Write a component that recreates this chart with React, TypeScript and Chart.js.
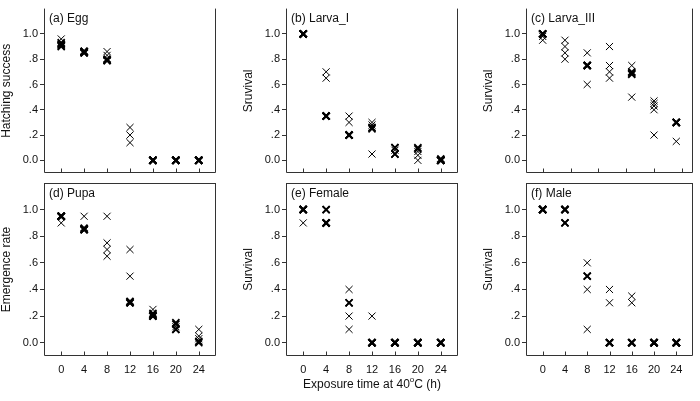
import React, { useEffect, useRef } from 'react';
import { Chart, registerables } from 'chart.js';
Chart.register(...registerables);

// ---- data ----
const hours = [0, 4, 8, 12, 16, 20, 24];
const xTicksStd = [0, 4, 8, 12, 16, 20, 24];
const xTicksLarvaIII = [0, 5, 10, 15, 20, 25];
const yTicks = [0, 0.2, 0.4, 0.6, 0.8, 1.0];
const yTickLabels = ['0.0', '.2', '.4', '.6', '.8', '1.0'];

const eggHatching = [
  [0.96, 0.93, 0.92, 0.9, 0.91],
  [0.86, 0.86, 0.85, 0.85, 0.86],
  [0.86, 0.83, 0.8, 0.79, 0.79],
  [0.26, 0.2, 0.14],
  [0, 0, 0, 0, 0],
  [0, 0, 0, 0, 0],
  [0, 0, 0, 0, 0],
];
const larvaISurvival = [
  [1, 1, 1, 1, 1],
  [0.7, 0.65, 0.35, 0.35, 0.35],
  [0.35, 0.3, 0.2, 0.2, 0.2],
  [0.3, 0.28, 0.26, 0.25, 0.05],
  [0.1, 0.1, 0.08, 0.05, 0.05],
  [0.1, 0.09, 0.07, 0.04, 0],
  [0, 0, 0, 0, 0.01],
];
const larvaIIISurvival = [
  [1, 1, 1, 0.98, 0.95],
  [0.95, 0.9, 0.85, 0.8],
  [0.85, 0.75, 0.75, 0.75, 0.6],
  [0.9, 0.75, 0.7, 0.65],
  [0.75, 0.7, 0.69, 0.68, 0.5],
  [0.47, 0.45, 0.43, 0.4, 0.2],
  [0.3, 0.3, 0.3, 0.15],
];
const pupaEmergence = [
  [0.95, 0.95, 0.95, 0.95, 0.9],
  [0.95, 0.85, 0.85, 0.85, 0.86],
  [0.95, 0.75, 0.7, 0.65],
  [0.7, 0.5, 0.3, 0.3, 0.31],
  [0.25, 0.22, 0.21, 0.2, 0.2],
  [0.15, 0.14, 0.12, 0.1, 0.1],
  [0.1, 0.05, 0.03, 0.01, 0],
];
const femaleSurvival = [
  [1, 1, 1, 1, 0.9],
  [1, 1, 0.9, 0.9, 0.9],
  [0.4, 0.3, 0.3, 0.2, 0.1],
  [0.2, 0, 0, 0, 0],
  [0, 0, 0, 0, 0],
  [0, 0, 0, 0, 0],
  [0, 0, 0, 0, 0],
];
const maleSurvival = [
  [1, 1, 1, 1, 1],
  [1, 1, 1, 0.9, 0.9],
  [0.6, 0.5, 0.5, 0.4, 0.1],
  [0.4, 0.3, 0, 0, 0],
  [0.35, 0.3, 0, 0, 0],
  [0, 0, 0, 0, 0],
  [0, 0, 0, 0, 0],
];

// ---- style / layout ----
const W = 700;
const H = 401;
const YW = 40;
const XH = 20;
const FONT = "'Liberation Sans', Arial, Helvetica, sans-serif";
const FRAME = '#333333';
const TEXT = '#111111';

type Panel = {
  label: string;
  yTitle: string;
  values: number[][];
  xTicks: number[];
  area: { l: number; r: number; t: number; b: number };
  bottomRow: boolean;
  xTitle?: boolean;
};

const panels: Panel[] = [
  { label: '(a) Egg', yTitle: 'Hatching success', values: eggHatching, xTicks: xTicksStd, area: { l: 44, r: 216, t: 0, b: 173 }, bottomRow: false },
  { label: '(b) Larva_I', yTitle: 'Sruvival', values: larvaISurvival, xTicks: xTicksStd, area: { l: 286, r: 458, t: 0, b: 173 }, bottomRow: false },
  { label: '(c) Larva_III', yTitle: 'Survival', values: larvaIIISurvival, xTicks: xTicksLarvaIII, area: { l: 526, r: 698, t: 0, b: 173 }, bottomRow: false },
  { label: '(d) Pupa', yTitle: 'Emergence rate', values: pupaEmergence, xTicks: xTicksStd, area: { l: 44, r: 216, t: 183, b: 356 }, bottomRow: true },
  { label: '(e) Female', yTitle: 'Survival', values: femaleSurvival, xTicks: xTicksStd, area: { l: 286, r: 458, t: 183, b: 356 }, bottomRow: true, xTitle: true },
  { label: '(f) Male', yTitle: 'Survival', values: maleSurvival, xTicks: xTicksStd, area: { l: 526, r: 698, t: 183, b: 356 }, bottomRow: true },
];

function PanelChart({ p }: { p: Panel }) {
  const ref = useRef<HTMLCanvasElement | null>(null);
  useEffect(() => {
    if (!ref.current) return;
    const points: { x: number; y: number }[] = [];
    const counts: number[] = [];
    hours.forEach((h, i) => {
      const vals = p.values[i] || [];
      vals.forEach((v) => {
        points.push({ x: h, y: v });
        counts.push(vals.filter((w) => Math.abs(w - v) < 0.015).length);
      });
    });

    const decor = {
      id: 'decor',
      afterDraw(chart: any) {
        const { ctx, chartArea } = chart;
        const { left, right, top, bottom } = chartArea;
        ctx.save();
        ctx.strokeStyle = FRAME;
        ctx.lineWidth = 1;
        ctx.beginPath();
        const L = Math.round(left) + 0.5;
        const R = Math.round(right) - 0.5;
        const B = Math.round(bottom) - 0.5;
        const T = Math.round(top) + 0.5;
        if (p.bottomRow) {
          ctx.moveTo(L, T);
          ctx.lineTo(R, T);
        }
        ctx.moveTo(L, top);
        ctx.lineTo(L, B);
        ctx.lineTo(R, B);
        ctx.lineTo(R, top);
        const xs = chart.scales.x;
        xs.ticks.forEach((t: any) => {
          const px = Math.round(xs.getPixelForValue(t.value)) + 0.5;
          ctx.moveTo(px, B);
          ctx.lineTo(px, B - 4);
        });
        ctx.stroke();

        ctx.fillStyle = TEXT;
        ctx.font = `12px ${FONT}`;
        ctx.textAlign = 'left';
        ctx.textBaseline = 'middle';
        ctx.fillText(p.label, left + 5, top + (p.bottomRow ? 11 : 10));

        ctx.save();
        ctx.translate(left - 37, (top + bottom) / 2);
        ctx.rotate(-Math.PI / 2);
        ctx.textAlign = 'center';
        ctx.fillText(p.yTitle, 0, 0);
        ctx.restore();

        if (p.xTitle) {
          const a = 'Exposure time at 40';
          const sup = 'o';
          const c = 'C (h)';
          ctx.font = `12px ${FONT}`;
          const wa = ctx.measureText(a).width;
          const wc = ctx.measureText(c).width;
          ctx.font = `8px ${FONT}`;
          const ws = ctx.measureText(sup).width;
          const total = wa + ws + wc;
          const x0 = (left + right) / 2 - total / 2;
          const y0 = bottom + 29;
          ctx.textAlign = 'left';
          ctx.font = `12px ${FONT}`;
          ctx.fillText(a, x0, y0);
          ctx.font = `8px ${FONT}`;
          ctx.fillText(sup, x0 + wa, y0 - 5);
          ctx.font = `12px ${FONT}`;
          ctx.fillText(c, x0 + wa + ws, y0);
        }
        ctx.restore();
      },
    };

    const chart = new Chart(ref.current, {
      type: 'scatter',
      data: {
        datasets: [
          {
            data: points,
            pointStyle: 'crossRot',
            pointRadius: 5,
            pointBorderColor: '#000000',
            pointBackgroundColor: '#000000',
            pointBorderWidth: (ctx: any) => {
              const n = counts[ctx.dataIndex];
              return n >= 3 ? 2 : n === 2 ? 1.7 : 1;
            },
            showLine: false,
          } as any,
        ],
      },
      options: {
        animation: false,
        responsive: false,
        events: [],
        layout: {
          padding: {
            left: p.area.l - YW,
            right: W - p.area.r,
            top: p.area.t,
            bottom: H - p.area.b - XH,
          },
        },
        plugins: { legend: { display: false }, tooltip: { enabled: false } },
        scales: {
          x: {
            type: 'linear',
            position: 'bottom',
            min: -3,
            max: 27,
            afterBuildTicks: (s: any) => {
              s.ticks = p.xTicks.map((v) => ({ value: v }));
            },
            afterFit: (s: any) => {
              s.height = XH;
            },
            grid: { display: false, drawTicks: false },
            border: { display: false },
            ticks: {
              display: p.bottomRow,
              padding: 7,
              autoSkip: false,
              maxRotation: 0,
              color: TEXT,
              font: { family: FONT, size: 11 },
              callback: (v: any) => String(v),
            },
          },
          y: {
            type: 'linear',
            min: -0.1,
            max: 1.2,
            afterBuildTicks: (s: any) => {
              s.ticks = yTicks.map((v) => ({ value: v }));
            },
            afterFit: (s: any) => {
              s.width = YW;
            },
            grid: { display: true, drawOnChartArea: false, drawTicks: true, tickLength: 4, color: FRAME, lineWidth: 1 },
            border: { display: false },
            ticks: {
              padding: 2,
              autoSkip: false,
              color: TEXT,
              font: { family: FONT, size: 11 },
              callback: (_v: any, i: number) => yTickLabels[i],
            },
          },
        },
      } as any,
      plugins: [decor],
    });
    return () => chart.destroy();
  }, [p]);
  return (
    <canvas
      ref={ref}
      width={W}
      height={H}
      style={{ position: 'absolute', left: 0, top: 0, width: W, height: H }}
    />
  );
}

export default function App() {
  return (
    <div style={{ position: 'fixed', left: 0, top: 0, width: W, height: H, background: '#ffffff', overflow: 'hidden' }}>
      {panels.map((p, i) => (
        <PanelChart key={i} p={p} />
      ))}
    </div>
  );
}
